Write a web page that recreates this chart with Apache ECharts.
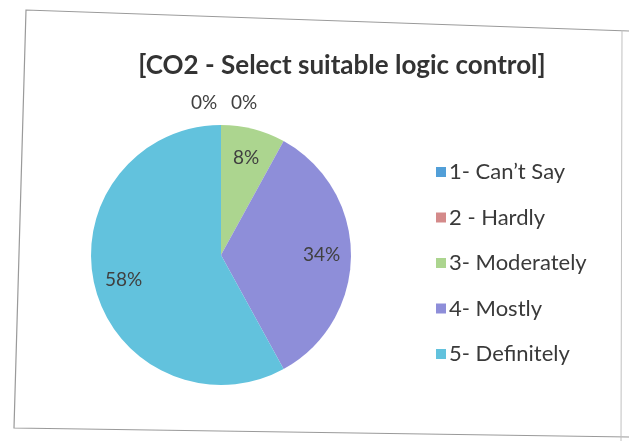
<!DOCTYPE html>
<html>
<head>
<meta charset="utf-8">
<script src="https://cdn.jsdelivr.net/npm/echarts@6/dist/echarts.min.js"></script>
<style>
html,body{margin:0;padding:0;background:#fff;}
#c{width:629px;height:441px;}
</style>
</head>
<body>
<div id="c"></div>
<script>
const title = '[CO2 - Select suitable logic control]';
const categories = ['1- Can\u2019t Say', '2 - Hardly', '3- Moderately', '4- Mostly', '5- Definitely'];
const values = [0, 0, 8, 34, 58];
const labels = ['0%', '0%', '8%', '34%', '58%'];
const colors = ['#529fd8', '#d48a8a', '#acd58f', '#8e8ed9', '#62c2dd'];

const PIE_CX = 221, PIE_CY = 255, PIE_R = 130;

const chart = echarts.init(document.getElementById('c'), null, {renderer: 'canvas'});
chart.setOption({
  backgroundColor: '#ffffff',
  animation: false,
  title: {
    text: title,
    left: 337, top: 48, textAlign: 'center',
    textStyle: {fontFamily: 'Lato', fontWeight: 'bold', fontSize: 26, color: '#333333'}
  },
  legend: {
    orient: 'vertical',
    left: 431, top: 155,
    icon: 'rect', itemWidth: 10, itemHeight: 10, itemGap: 21.5,
    data: categories,
    textStyle: {fontFamily: 'Lato', fontSize: 22, lineHeight: 24, color: '#3a3a3a', padding: [0,0,0,-2]}
  },
  graphic: [
    {type: 'polyline', shape: {points: [[629, 31], [26, 10], [14, 428], [629, 437]]}, style: {stroke: '#9a9a9a', lineWidth: 1.2, fill: null}, silent: true},
    {type: 'line', shape: {x1: 622, y1: 30, x2: 621, y2: 441}, style: {stroke: '#c0c0c0', lineWidth: 1}, silent: true}
  ],
  series: [{
    type: 'pie',
    center: [PIE_CX, PIE_CY],
    radius: [0, PIE_R],
    startAngle: 90,
    clockwise: true,
    minShowLabelAngle: 0,
    avoidLabelOverlap: false,
    stillShowZeroSum: true,
    data: categories.map((n, i) => ({
      name: n, value: values[i],
      itemStyle: {color: colors[i]},
      label: values[i] === 0 ? {position: 'outside'} : {position: 'inside'},
      labelLine: {show: false}
    })),
    label: {
      formatter: p => labels[p.dataIndex],
      fontFamily: 'Lato', fontSize: 19, color: '#404040'
    },
    emphasis: {disabled: true},
    labelLayout: function (p) {
      const i = p.dataIndex;
      const lr = p.labelRect;
      if (values[i] === 0) {
        return {x: PIE_CX + 3 + (i === 0 ? -20 : 20), y: PIE_CY - PIE_R - 22, align: 'center', verticalAlign: 'middle'};
      }
      const cx = lr.x + lr.width / 2, cy = lr.y + lr.height / 2;
      const k = 0.74 / 0.5 - 1;
      return {dx: (cx - PIE_CX) * k, dy: (cy - PIE_CY) * k};
    }
  }]
});
</script>
</body>
</html>
